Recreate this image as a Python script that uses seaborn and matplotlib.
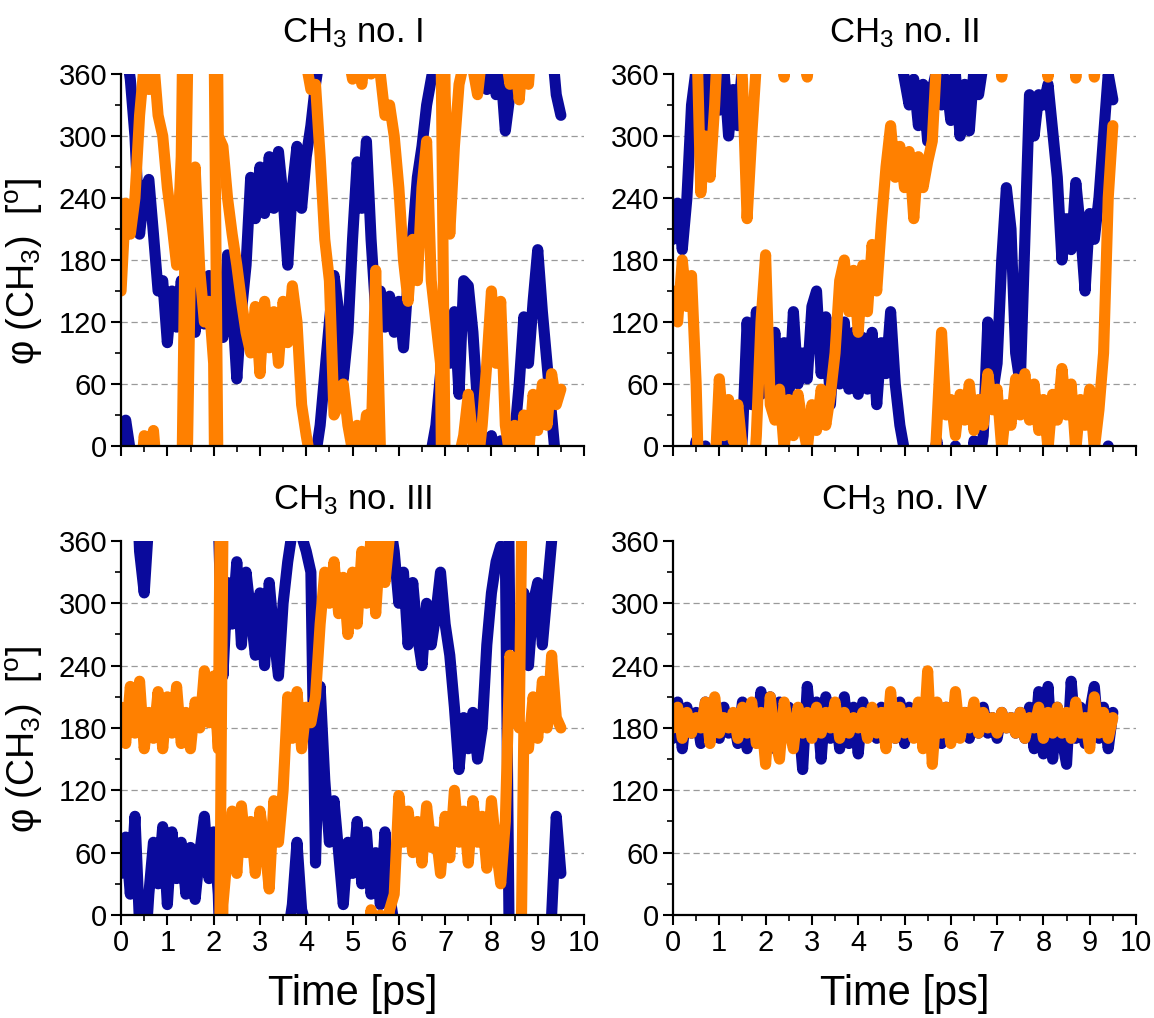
import numpy as np
import pandas as pd
import matplotlib.pyplot as plt
import seaborn as sns
from matplotlib.ticker import MultipleLocator

# time axis, one reading every 0.1 ps
time_ps = np.round(np.arange(0, 9.51, 0.1), 1)

# phi(CH3), unwrapped (add/subtract 360 for turns)
# panel I
blue_1 = [365, 385, 355, 300, 205, 245, 258, 205, 150, 160,
          100, 150, 115, 160, 120, 155, 110, 150, 118, 165,
          130, 150, 105, 185, 140, 65, 130, 175, 260, 220,
          270, 225, 280, 230, 285, 240, 175, 250, 290, 230,
          280, 310, 350, 380, 430, 480, 525, 490, 425, 470,
          560, 635, 590, 655, 560, 490, 510, 475, 505, 470,
          500, 455, 520, 565, 620, 650, 690, 715, 740, 790,
          840, 800, 850, 770, 880, 875, 830, 760, 725, 705,
          730, 700, 725, 665, 700, 730, 780, 845, 800, 860,
          910, 850, 800, 750, 700, 680]
orange_1 = [150, 235, 205, 240, 320, 370, 345, 375, 320, 300,
            250, 215, 175, 280, 620, 900, 990, 890, 840, 860,
            800, 300, 290, 240, 205, 175, 140, 110, 90, 135,
            70, 140, 95, 130, 80, 140, 100, 155, 120, 40,
            10, -15, -10, -80, -160, -200, -330, -320, -300, -340,
            -365, -340, -370, -330, -360, -190, -360, -400, -390, -420,
            -470, -540, -580, -520, -560, -470, -425, -560, -600, -640,
            -1100, -1235, -1150, -1090, -1070, -1030, -1075, -1100, -1060, -1000,
            -930, -1000, -940, -1060, -1090, -1060, -1105, -1050, -1090, -1030,
            -1065, -1020, -1060, -1010, -1040, -1025]
# panel II
blue_2 = [200, 235, 190, 240, 330, 365, 320, 360, 305, 355,
          325, 365, 300, 345, 310, 370, 480, 400, 490, 410,
          480, 420, 470, 400, 460, 405, 490, 420, 450, 425,
          495, 510, 430, 485, 400, 470, 420, 480, 415, 470,
          410, 465, 415, 470, 400, 460, 430, 490, 420, 380,
          355, 330, 355, 310, 350, 295, 345, 365, 330, 355,
          315, 360, 300, 350, 305, 365, 340, 370, 480, 410,
          440, 540, 610, 570, 450, 420, 560, 700, 660, 700,
          690, 710, 665, 620, 540, 580, 550, 615, 570, 510,
          585, 560, 600, 660, 720, 695]
orange_2 = [150, 120, 180, 135, 165, 60, -115, -60, -100, -30,
            65, 10, 45, 5, 40, -5, -140, -60, 10, 120,
            185, 40, 25, 55, -3, 45, 10, 50, 20, -3,
            40, 15, 55, 20, 50, 90, 160, 180, 130, 170,
            110, 175, 130, 195, 150, 215, 270, 310, 260, 290,
            250, 285, 220, 280, 250, 275, 295, 380, 470, 390,
            405, 370, 410, 385, 420, 375, 405, 380, 430, 395,
            415, 357, 400, 380, 425, 390, 430, 385, 420, 375,
            405, 357, 410, 385, 435, 390, 420, 356, 405, 380,
            415, 357, 395, 450, 600, 670]
# panel III
blue_3 = [40, 75, 20, 95, -10, -50, 20, 70, 30, 85,
          10, 80, 35, 70, 20, 65, 15, 60, 95, 35,
          80, 20, -130, -40, -80, -20, -100, -30, -70, -110,
          -50, -120, -40, -90, -130, -60, -20, 10, 70, 5,
          -10, -30, -310, -140, -230, -290, -250, -300, -350, -290,
          -320, -270, -330, -280, -340, -300, -350, -280, -340, -370,
          -420, -390, -460, -400, -450, -480, -420, -460, -430, -390,
          -440, -470, -520, -580, -530, -560, -525, -570, -540, -460,
          -410, -380, -365, -370, -820, -800, -830, -770, -840, -780,
          -760, -820, -770, -720, -625, -680]
orange_3 = [200, 165, 220, 175, 225, 160, 195, 170, 215, 160,
            210, 175, 220, 165, 195, 160, 205, 180, 235, 185,
            230, 160, 730, 780, 820, 760, 825, 780, 810, 760,
            820, 790, 745, 830, 790, 840, 930, 890, 935, 880,
            920, 905, 930, 1000, 1050, 1020, 1060, 1010, 1045, 990,
            1050, 1000, 1070, 1020, 1085, 1010, 1080, 1040, 1085, 1100,
            1195, 1150, 1180, 1140, 1170, 1130, 1185, 1145, 1160, 1120,
            1175, 1135, 1200, 1150, 1180, 1130, 1190, 1150, 1175, 1125,
            1190, 1145, 1110, 1170, 1330, 1300, 1260, 1620, 1600, 1650,
            1610, 1665, 1620, 1690, 1630, 1620]
# panel IV
blue_4 = [170, 205, 160, 200, 175, 195, 165, 205, 180, 195,
          170, 200, 175, 190, 165, 205, 160, 200, 175, 215,
          170, 210, 160, 205, 175, 200, 165, 195, 140, 220,
          175, 205, 150, 210, 170, 200, 160, 210, 165, 200,
          155, 205, 175, 195, 170, 200, 175, 190, 170, 205,
          165, 200, 175, 195, 170, 200, 175, 190, 165, 200,
          170, 205, 175, 195, 170, 190, 175, 200, 175, 190,
          170, 195, 180, 190, 175, 195, 170, 200, 160, 215,
          155, 220, 150, 200, 170, 145, 225, 170, 200, 165,
          195, 220, 170, 200, 160, 195]
orange_4 = [180, 200, 170, 195, 175, 190, 180, 205, 165, 210,
            175, 190, 180, 195, 170, 200, 175, 205, 165, 195,
            145, 210, 170, 150, 205, 180, 160, 200, 175, 195,
            170, 200, 175, 195, 180, 205, 170, 195, 175, 190,
            180, 195, 170, 200, 175, 195, 160, 215, 170, 200,
            175, 195, 170, 205, 160, 235, 145, 205, 175, 200,
            165, 215, 170, 195, 180, 205, 175, 195, 180, 190,
            175, 195, 180, 190, 175, 195, 170, 190, 180, 200,
            170, 195, 175, 200, 175, 195, 170, 205, 175, 190,
            160, 210, 175, 195, 170, 190]

titles = ['CH$_3$ no. I', 'CH$_3$ no. II', 'CH$_3$ no. III', 'CH$_3$ no. IV']
blues = [blue_1, blue_2, blue_3, blue_4]
oranges = [orange_1, orange_2, orange_3, orange_4]
colors = {'a': '#0a0a9c', 'b': '#ff8000'}

sns.set_theme(style='ticks')
plt.rcParams['font.family'] = ['Liberation Sans', 'DejaVu Sans']
plt.rcParams['mathtext.fontset'] = 'custom'
plt.rcParams['mathtext.rm'] = 'Liberation Sans'
plt.rcParams['mathtext.default'] = 'regular'
for key in ('text.color', 'axes.labelcolor', 'xtick.color', 'ytick.color'):
    plt.rcParams[key] = 'black'

fig = plt.figure(figsize=(11.54, 10.18), dpi=100)
boxes = [(0.1049, 0.5619, 0.4012, 0.3654), (0.5832, 0.5619, 0.4012, 0.3654),
         (0.1049, 0.1012, 0.4012, 0.3674), (0.5832, 0.1012, 0.4012, 0.3674)]

for i in range(4):
    ax = fig.add_axes(boxes[i])
    # repeat each trace shifted by whole turns so it wraps inside 0..360
    rows = []
    for name, vals in (('a', blues[i]), ('b', oranges[i])):
        v = np.array(vals, dtype=float)
        for k in range(-6, 6):
            rows.append(pd.DataFrame({'t': time_ps, 'phi': v + 360 * k,
                                      'atom': name, 'copy': k}))
    df = pd.concat(rows, ignore_index=True)

    for y in (60, 120, 180, 240, 300):
        ax.axhline(y, color='#9a9a9a', lw=0.9, ls=(0, (5, 3)), zorder=0)

    sns.lineplot(data=df, x='t', y='phi', hue='atom', hue_order=['a', 'b'],
                 units='copy', estimator=None, sort=False, palette=colors,
                 linewidth=8, legend=False, ax=ax,
                 solid_capstyle='round', solid_joinstyle='round')

    ax.set_xlim(0, 10)
    ax.set_ylim(0, 360)
    ax.xaxis.set_major_locator(MultipleLocator(1))
    ax.xaxis.set_minor_locator(MultipleLocator(0.5))
    ax.yaxis.set_major_locator(MultipleLocator(60))
    ax.yaxis.set_minor_locator(MultipleLocator(30))
    ax.tick_params(which='major', direction='out', length=7, width=1.5,
                   labelsize=21, colors='black', pad=3)
    ax.tick_params(which='minor', direction='out', length=4, width=1.2)
    for s in ('top', 'right'):
        ax.spines[s].set_visible(False)
    for s in ('left', 'bottom'):
        ax.spines[s].set_linewidth(1.6)
        ax.spines[s].set_color('black')

    ax.set_title(titles[i], fontsize=25, pad=23)
    if i < 2:
        ax.set_xticklabels([])
        ax.set_xlabel('')
    else:
        ax.set_xlabel('Time [ps]', fontsize=30, labelpad=12)
    if i % 2 == 0:
        ax.set_ylabel('φ (CH$_3$)  [$^o$]', fontsize=27, labelpad=6)
        ax.yaxis.set_label_coords(-0.165, 0.47)
    else:
        ax.set_ylabel('')

fig.savefig('out.png', dpi=100)
